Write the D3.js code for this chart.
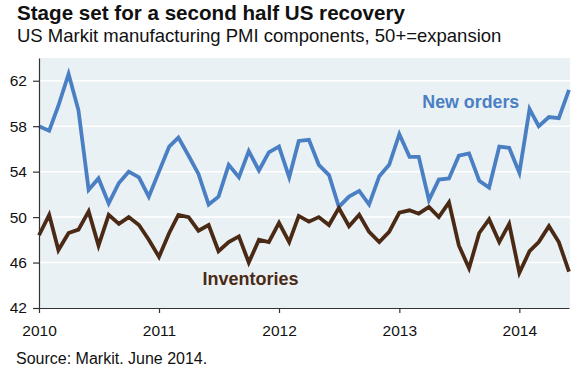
<!DOCTYPE html>
<html>
<head>
<meta charset="utf-8">
<script src="https://cdn.jsdelivr.net/npm/d3@7"></script>
<style>
  body { margin: 0; background: #fff; font-family: "Liberation Sans", Arial, sans-serif; }
</style>
</head>
<body>
<div class="canvas"></div>
<script>
// monthly readings, Jan 2010 - Jun 2014
const newOrders = [
  58.0, 57.6, 59.8, 62.6, 59.4, 52.4, 53.4, 51.2, 53.0, 54.0, 53.5, 51.8,
  54.0, 56.2, 57.0, 55.4, 53.8, 51.1, 51.8, 54.6, 53.5, 55.8, 54.1, 55.7,
  56.2, 53.5, 56.7, 56.8, 54.6, 53.7, 50.9, 51.8, 52.3, 51.1, 53.6, 54.6,
  57.3, 55.3, 55.3, 51.5, 53.3, 53.4, 55.4, 55.6, 53.2, 52.6, 56.2, 56.1,
  53.9, 59.5, 58.0, 58.8, 58.7, 61.2
];
const inventories = [
  48.4, 50.2, 47.1, 48.6, 48.9, 50.5, 47.5, 50.2, 49.4, 50.0, 49.3, 48.0,
  46.5, 48.6, 50.2, 50.0, 48.8, 49.3, 47.0, 47.8, 48.3, 46.0, 48.0, 47.8,
  49.5, 47.8, 50.1, 49.6, 50.0, 49.3, 50.8, 49.2, 50.2, 48.7, 47.8, 48.7,
  50.4, 50.6, 50.3, 50.9, 50.0, 51.3, 47.5, 45.5, 48.6, 49.8, 47.8, 49.4,
  45.1, 47.0, 47.8, 49.2, 47.8, 45.2
];
const yTicks = [42, 46, 50, 54, 58, 62];
const yearTicks = [2010, 2011, 2012, 2013, 2014];

const months = newOrders.map((d, i) => new Date(2010, i, 1));

const svg = d3.select('.canvas')
  .append('svg')
    .attr('width', 576)
    .attr('height', 374);

const margin = {top: 58, right: 6, bottom: 66, left: 39};
const graphWidth = 576 - margin.left - margin.right;
const graphHeight = 374 - margin.top - margin.bottom;

// titles
svg.append('text')
  .attr('x', 17).attr('y', 20)
  .attr('font-size', 20.6).attr('font-weight', 'bold').attr('fill', '#111')
  .text('Stage set for a second half US recovery');
svg.append('text')
  .attr('x', 17).attr('y', 41.5)
  .attr('font-size', 18.5).attr('fill', '#111')
  .text('US Markit manufacturing PMI components, 50+=expansion');

const graph = svg.append('g')
  .attr('transform', `translate(${margin.left}, ${margin.top})`);

graph.append('rect')
  .attr('width', graphWidth)
  .attr('height', graphHeight)
  .attr('fill', '#eaf1f5');

const x = d3.scaleTime()
  .domain([new Date(2010, 0, 1), new Date(2014, 5, 1)])
  .range([0, graphWidth - 1]);

const y = d3.scaleLinear()
  .domain([42, 64])
  .range([graphHeight, 0]);

// grid
graph.selectAll('line.grid')
  .data(yTicks.slice(1))
  .enter()
  .append('line')
    .attr('class', 'grid')
    .attr('x1', 0).attr('x2', graphWidth)
    .attr('y1', d => y(d)).attr('y2', d => y(d))
    .attr('stroke', '#fff')
    .attr('stroke-width', 1.5);

// lines
const line = d3.line()
  .x((d, i) => x(months[i]))
  .y(d => y(d));

graph.append('path')
  .datum(newOrders)
  .attr('d', line)
  .attr('fill', 'none')
  .attr('stroke', '#4a80c3')
  .attr('stroke-width', 3.8)
  .attr('stroke-linejoin', 'miter');

graph.append('path')
  .datum(inventories)
  .attr('d', line)
  .attr('fill', 'none')
  .attr('stroke', '#4b2a15')
  .attr('stroke-width', 3.8)
  .attr('stroke-linejoin', 'miter');

// series labels
graph.append('text')
  .attr('x', x(new Date(2013, 2, 12)))
  .attr('y', y(59.6))
  .attr('font-size', 17.8).attr('font-weight', 'bold').attr('fill', '#4a80c3')
  .text('New orders');

graph.append('text')
  .attr('x', x(new Date(2011, 4, 13)))
  .attr('y', y(44.0))
  .attr('font-size', 18).attr('font-weight', 'bold').attr('fill', '#4b2a15')
  .text('Inventories');

// axes
const xAxis = d3.axisBottom(x)
  .tickValues(yearTicks.map(yr => new Date(yr, 0, 1)))
  .tickFormat(d3.timeFormat('%Y'))
  .tickSize(5)
  .tickSizeOuter(0);

const yAxis = d3.axisLeft(y)
  .tickValues(yTicks)
  .tickSize(6)
  .tickSizeOuter(0);

const xAxisGroup = graph.append('g')
  .attr('transform', `translate(0, ${graphHeight})`)
  .call(xAxis);
const yAxisGroup = graph.append('g').call(yAxis);

[xAxisGroup, yAxisGroup].forEach(g => {
  g.select('.domain').attr('stroke', '#333').attr('stroke-width', 1.2);
  g.selectAll('.tick line').attr('stroke', '#333').attr('stroke-width', 1.2);
  g.selectAll('text')
    .attr('font-family', '"Liberation Sans", Arial, sans-serif')
    .attr('font-size', 15.5)
    .attr('fill', '#111');
});
xAxisGroup.selectAll('text').attr('y', 17).attr('dy', '0.71em');
yAxisGroup.selectAll('text').attr('x', -12);

svg.append('text')
  .attr('x', 16).attr('y', 364)
  .attr('font-size', 16).attr('fill', '#111')
  .text('Source: Markit. June 2014.');
</script>
</body>
</html>
